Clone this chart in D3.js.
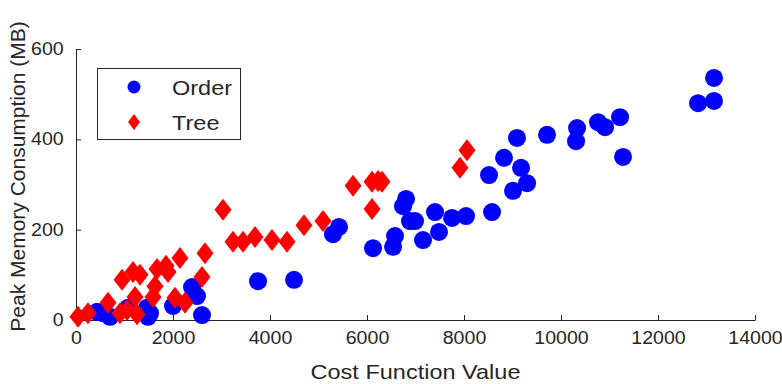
<!DOCTYPE html>
<html>
<head>
<meta charset="utf-8">
<script src="https://cdn.jsdelivr.net/npm/d3@7"></script>
<style>
  body { margin: 0; background: #fff; }
  text { font-family: "Liberation Sans", Arial, sans-serif; fill: #262626; }
</style>
</head>
<body>
<div id="chart"></div>
<script>
// Order series: cost function value, peak memory (MB)
const orderCost = [13155, 12826, 13155, 9712, 10331, 10310, 10764, 10908, 11217, 11279,
  9093, 8825, 8516, 9176, 9300, 9011, 8578, 8042, 7753, 7403,
  7485, 7155, 6805, 6743, 6887, 6990, 6578, 6537, 6124, 5423,
  5299, 4495, 3753, 2392, 2495, 2598, 2000, 1526, 1464, 1072,
  557, 701, 433, 1485]
const orderMem = [536, 480, 485, 410, 425, 396, 438, 427, 449, 361,
  403, 359, 321, 337, 303, 286, 239, 230, 226, 239,
  195, 177, 268, 252, 219, 219, 186, 162, 159, 206,
  190, 89, 86, 73, 53, 11, 31, 15, 27, 27,
  15, 7, 18, 7]

// Tree series
const treeCost = [8062, 7918, 6104, 6228, 6310, 5712, 6104, 5093, 4701, 4351,
  4042, 3691, 3444, 3237, 3031, 2660, 2598, 2144, 2041, 2248,
  1670, 1897, 1856, 1629, 1588, 1320, 1175, 949, 1217, 660,
  907, 1258, 247, 41, 1052]
const treeMem = [376, 337, 306, 308, 306, 297, 246, 219, 210, 173,
  177, 184, 173, 173, 244, 148, 95, 137, 49, 38,
  113, 106, 120, 75, 51, 100, 106, 89, 51, 38,
  15, 13, 15, 7, 22]

const xTicks = [0, 2000, 4000, 6000, 8000, 10000, 12000, 14000]
const yTicks = [0, 200, 400, 600]
const seriesNames = ["Order", "Tree"]

const width = 782, height = 384
const marginLeft = 76, marginRight = 27, marginTop = 49, marginBottom = 64
const ink = "#262626"
const stretch = 1.12 // the reference text is a little wide

const svg = d3.select("#chart").append("svg")
  .attr("width", width)
  .attr("height", height)
  .attr("viewBox", [0, 0, width, height])

const x = d3.scaleLinear([0, 14000], [marginLeft, width - marginRight])
const y = d3.scaleLinear([0, 600], [height - marginBottom, marginTop])

// axes, MATLAB style: ticks pointing inward, no box
svg.append("g")
  .attr("transform", `translate(0,${height - marginBottom})`)
  .call(d3.axisBottom(x).tickValues(xTicks).tickFormat(d3.format("d"))
    .tickSize(-5).tickPadding(12).tickSizeOuter(0))
  .call(g => g.select(".domain").attr("stroke", ink))
  .call(g => g.selectAll(".tick line").attr("stroke", ink))
  .call(g => g.selectAll(".tick text").attr("font-size", 17.5).attr("fill", ink)
    .attr("transform", `scale(${stretch},1)`))

svg.append("g")
  .attr("transform", `translate(${marginLeft},0)`)
  .call(d3.axisLeft(y).tickValues(yTicks).tickFormat(d3.format("d"))
    .tickSize(-5).tickPadding(11).tickSizeOuter(0))
  .call(g => g.select(".domain").attr("stroke", ink))
  .call(g => g.selectAll(".tick line").attr("stroke", ink))
  .call(g => g.selectAll(".tick text").attr("font-size", 17.5).attr("fill", ink)
    .attr("transform", `scale(${stretch},1)`))

svg.append("text")
  .attr("transform", `translate(${(x(0) + x(14000)) / 2},379) scale(${stretch},1)`)
  .attr("text-anchor", "middle")
  .attr("font-size", 21)
  .text("Cost Function Value")

svg.append("text")
  .attr("transform", `translate(25,${(y(0) + y(600)) / 2 - 8}) rotate(-90)`)
  .attr("text-anchor", "middle")
  .attr("font-size", 21)
  .text("Peak Memory Consumption (MB)")

const diamond = (w, h) => `M0,${-h}L${w},0L0,${h}L${-w},0Z`

// markers
svg.append("g")
  .attr("fill", "#0000ff")
  .selectAll("circle")
  .data(d3.range(orderCost.length))
  .join("circle")
  .attr("cx", i => x(orderCost[i]))
  .attr("cy", i => y(orderMem[i]))
  .attr("r", 9)

svg.append("g")
  .attr("fill", "#ff0000")
  .selectAll("path")
  .data(d3.range(treeCost.length))
  .join("path")
  .attr("transform", i => `translate(${x(treeCost[i])},${y(treeMem[i])})`)
  .attr("d", diamond(8.5, 11))

// legend
const legend = svg.append("g")
legend.append("rect")
  .attr("x", 97.5).attr("y", 68.5)
  .attr("width", 143).attr("height", 71)
  .attr("fill", "#fff").attr("stroke", ink)
legend.append("circle")
  .attr("cx", 134).attr("cy", 87).attr("r", 6.5).attr("fill", "#0000ff")
legend.append("path")
  .attr("transform", "translate(134,122)")
  .attr("d", diamond(6, 8)).attr("fill", "#ff0000")
legend.selectAll(".lbl")
  .data(seriesNames)
  .join("text")
  .attr("class", "lbl")
  .attr("transform", (d, i) => `translate(172,${95 + i * 35}) scale(${stretch},1)`)
  .attr("font-size", 21)
  .text(d => d)
</script>
</body>
</html>
